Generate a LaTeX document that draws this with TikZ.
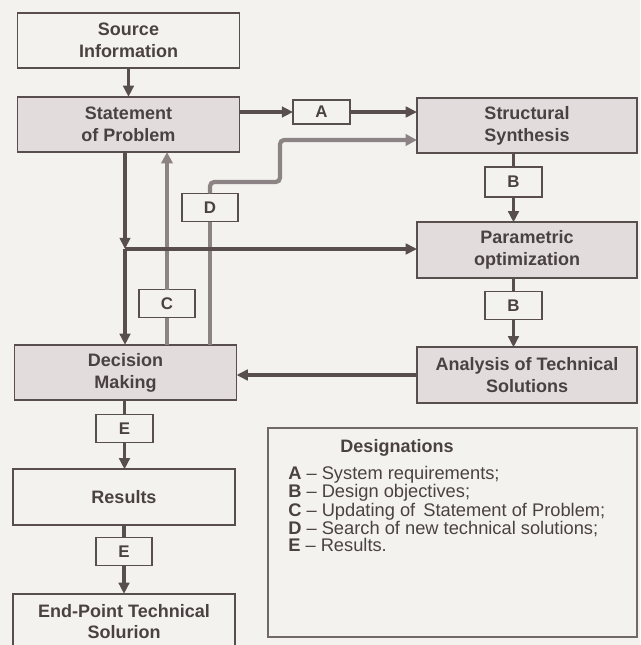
\documentclass[tikz,border=0pt]{standalone}
\usepackage{fontspec}
\setmainfont{Liberation Sans}
\usetikzlibrary{arrows.meta}
\definecolor{paper}{RGB}{244,242,239}
\definecolor{boxgray}{RGB}{226,220,220}
\definecolor{ink}{RGB}{88,78,78}
\definecolor{inklight}{RGB}{140,132,132}
\definecolor{textgray}{RGB}{74,66,66}
\tikzset{
  block/.style={draw=ink, line width=1.3pt, fill=paper,
                minimum width=5.55cm, minimum height=1.38cm,
                inner sep=2pt, outer sep=0pt, align=center, text=textgray,
                font=\fontsize{12.8}{15.5}\selectfont\bfseries},
  blockgray/.style={block, fill=boxgray},
  blockright/.style={blockgray, minimum width=5.5cm},
  tag/.style={draw=ink, line width=1.3pt, fill=paper,
              minimum width=1.42cm, minimum height=0.7cm,
              inner sep=0pt, outer sep=0pt, text=textgray,
              font=\fontsize{12}{14}\selectfont\bfseries},
  flow/.style={-{Triangle[length=8pt,width=7.5pt]}, draw=ink, line width=2.4pt},
  link/.style={draw=ink, line width=2.4pt},
  back/.style={-{Triangle[length=8pt,width=8pt]}, draw=inklight, line width=3pt},
  backlink/.style={draw=inklight, line width=3pt},
  legendbox/.style={draw=ink!85, line width=1.1pt, minimum width=9.225cm,
                    minimum height=5.225cm, inner sep=0pt},
  legendtext/.style={text=textgray, align=left, inner sep=0pt,
                     font=\fontsize{13}{10.4}\selectfont},
}

\begin{document}
\begin{tikzpicture}[x=0.025cm,y=-0.025cm]
  \fill[paper] (0,0) rectangle (640,645);
  \useasboundingbox (0,0) rectangle (640,645);

  % left column
  \node[block] (src) at (128.5,40.5) {Source\\Information};
  \node[blockgray] (stmt) at (128.5,124.5) {Statement\\of Problem};
  \node[blockgray] (dec) at (125.5,372.5) {Decision\\Making};
  \node[tag] (E1) at (124.5,428.5) {E};
  \node[block] (res) at (124,497) {Results};
  \node[tag] (E2) at (124,551.5) {E};
  \node[block] (end) at (124,621.5) {End-Point Technical\\Solurion};

  % right column
  \node[tag, minimum height=0.6cm] (A) at (321.5,112) {A};
  \node[blockright] (syn) at (527,125.5) {Structural\\Synthesis};
  \node[tag, minimum height=0.75cm] (B1) at (513.5,182) {B};
  \node[blockright] (par) at (527,250) {Parametric\\optimization};
  \node[tag] (B2) at (513.5,305.5) {B};
  \node[blockright] (ana) at (527,375) {Analysis of Technical\\Solutions};

  % feedback tags
  \node[tag] (C) at (167,303.5) {C};
  \node[tag] (D) at (210,207.5) {D};

  \coordinate (split) at (125,249);
  \coordinate (dturn) at (280,182);
  \coordinate (dhook) at (280,140);

  % feedback lines
  \draw[backlink] (C.south |- dec.north) -- (C.south);
  \draw[back] (C.north) -- (C.north |- stmt.south);
  \draw[backlink] (D.south |- dec.north) -- (D.south);
  \draw[back, rounded corners=3pt] (D.north) |- (dturn) -- (dhook)
    -- (dhook -| syn.west);

  % main flow
  \draw[flow] (src.south) -- (stmt.north);
  \draw[flow] (A.west -| stmt.east) -- (A.west);
  \draw[flow] (A.east) -- (A.east -| syn.west);
  \draw[flow] (stmt.south -| split) -- (split);
  \draw[flow] (split) -- (split |- dec.north);
  \draw[flow] (split) -- (split -| par.west);
  \draw[link] (B1.north |- syn.south) -- (B1.north);
  \draw[flow] (B1.south) -- (B1.south |- par.north);
  \draw[link] (B2.north |- par.south) -- (B2.north);
  \draw[flow] (B2.south) -- (B2.south |- ana.north);
  \draw[flow] (ana.west) -- (ana.west -| dec.east);
  \draw[link] (E1.north |- dec.south) -- (E1.north);
  \draw[flow] (E1.south) -- (E1.south |- res.north);
  \draw[link] (E2.north |- res.south) -- (E2.north);
  \draw[flow] (E2.south) -- (E2.south |- end.north);

  % designations
  \node[legendbox] (leg) at (452.5,532.5) {};
  \node[text=textgray, font=\fontsize{12.8}{15}\selectfont\bfseries] (legtitle)
    at (397,448) {Designations};
  \node[legendtext, anchor=north west] (leglist) at (288,466)
    {\textbf{A} -- System requirements;\\
     \textbf{B} -- Design objectives;\\
     \textbf{C} -- Updating of\, Statement of Problem;\\
     \textbf{D} -- Search of new technical solutions;\\
     \textbf{E} -- Results.};
\end{tikzpicture}
\end{document}
